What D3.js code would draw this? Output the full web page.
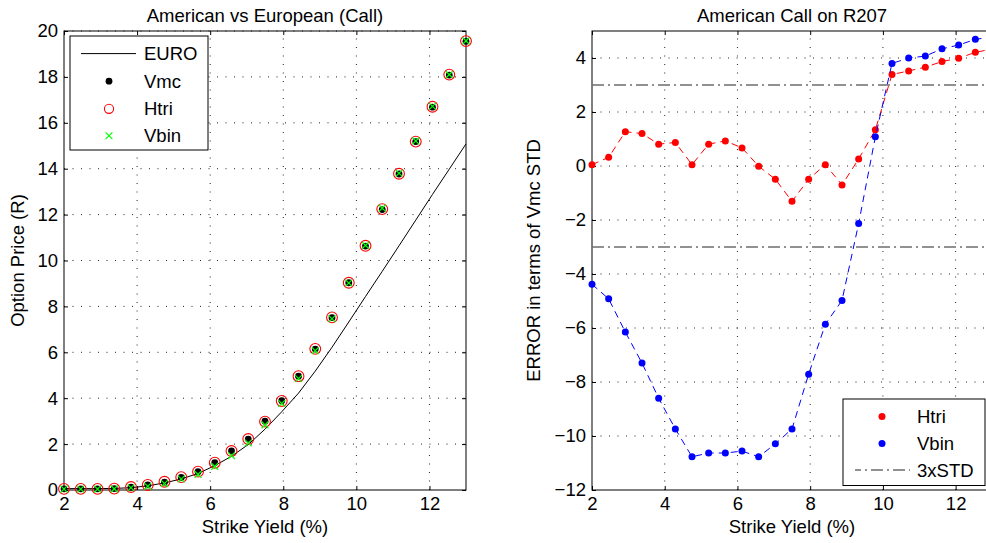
<!DOCTYPE html>
<html>
<head>
<meta charset="utf-8">
<script src="https://cdn.jsdelivr.net/npm/d3@7"></script>
<style>
  html, body { margin: 0; padding: 0; background: #fff; }
  svg { display: block; }
  text { font-family: "Liberation Sans", Arial, Helvetica, sans-serif; fill: #000; }
</style>
</head>
<body>
<svg id="chart" width="986" height="543"></svg>
<script>
// ---------------- DATA ----------------
const strikeYield = [2, 2.458, 2.917, 3.375, 3.833, 4.292, 4.75, 5.208, 5.667, 6.125, 6.583, 7.042, 7.5,
  7.958, 8.417, 8.875, 9.333, 9.792, 10.25, 10.708, 11.167, 11.625, 12.083, 12.542, 13];

// Left panel: option prices (R)
const euro = [0.06, 0.06, 0.06, 0.07, 0.10, 0.18, 0.31, 0.48, 0.72, 1.06, 1.47, 1.98, 2.65,
  3.41, 4.22, 5.18, 6.22, 7.32, 8.43, 9.53, 10.64, 11.76, 12.88, 13.98, 15.08];
const vmc = [0.05, 0.05, 0.05, 0.06, 0.12, 0.22, 0.34, 0.55, 0.80, 1.19, 1.70, 2.22, 3.00,
  3.89, 4.96, 6.14, 7.51, 9.03, 10.63, 12.22, 13.77, 15.18, 16.68, 18.08, 19.55];
const htri = [0.05, 0.05, 0.05, 0.06, 0.13, 0.22, 0.36, 0.56, 0.80, 1.19, 1.70, 2.22, 2.98,
  3.88, 4.96, 6.15, 7.52, 9.03, 10.64, 12.24, 13.78, 15.18, 16.70, 18.10, 19.56];
const vbin = [0.04, 0.04, 0.04, 0.05, 0.10, 0.16, 0.28, 0.48, 0.68, 1.03, 1.50, 2.05, 2.84,
  3.77, 4.86, 6.07, 7.46, 9.02, 10.66, 12.28, 13.80, 15.21, 16.72, 18.10, 19.57];

// Right panel: error in terms of Vmc STD
const htriErr = [0.05, 0.32, 1.27, 1.20, 0.81, 0.87, 0.05, 0.81, 0.93, 0.67, -0.01, -0.49, -1.31,
  -0.49, 0.05, -0.70, 0.26, 1.34, 3.39, 3.52, 3.66, 3.87, 3.99, 4.21, 4.33];
const vbinErr = [-4.38, -4.92, -6.15, -7.30, -8.60, -9.74, -10.77, -10.63, -10.63, -10.56, -10.77, -10.29, -9.74,
  -7.71, -5.86, -4.98, -2.13, 1.08, 3.80, 4.00, 4.07, 4.34, 4.48, 4.69, 4.78];
const stdBand = [3, -3];

// Axis ticks
const xTicks = [2, 4, 6, 8, 10, 12];
const leftYTicks = [0, 2, 4, 6, 8, 10, 12, 14, 16, 18, 20];
const rightYTicks = [-12, -10, -8, -6, -4, -2, 0, 2, 4];

// Text
const leftTitle = "American vs European (Call)";
const rightTitle = "American Call on R207";
const xLabel = "Strike Yield (%)";
const leftYLabel = "Option Price (R)";
const rightYLabel = "ERROR in terms of Vmc STD";
const leftLegend = ["EURO", "Vmc", "Htri", "Vbin"];
const rightLegend = ["Htri", "Vbin", "3xSTD"];

// ---------------- DRAWING ----------------
const svg = d3.select("#chart");
svg.append("rect").attr("width", 986).attr("height", 543).attr("fill", "#fff");
const FS = 18.5;

function panel(cfg) {
  const x = d3.scaleLinear().domain(cfg.xDomain).range([cfg.x0, cfg.x1]);
  const y = d3.scaleLinear().domain(cfg.yDomain).range([cfg.y1, cfg.y0]);
  const g = svg.append("g");

  // grid
  const grid = g.append("g").attr("stroke", "#222").attr("stroke-width", 1)
    .attr("stroke-dasharray", "1,7.5");
  cfg.xTicks.forEach(t => {
    if (t === cfg.xDomain[0]) return;
    grid.append("line").attr("x1", x(t)).attr("x2", x(t)).attr("y1", cfg.y1).attr("y2", cfg.y0);
  });
  cfg.yTicks.forEach(t => {
    if (t === cfg.yDomain[0]) return;
    grid.append("line").attr("x1", cfg.x0).attr("x2", cfg.x1).attr("y1", y(t)).attr("y2", y(t));
  });

  // axes (inward ticks, all four sides)
  const styleAxis = sel => {
    sel.select(".domain").remove();
    sel.selectAll("text").attr("font-size", FS).attr("font-family", null).attr("fill", "#000");
    sel.selectAll("line").attr("stroke", "#000");
  };
  g.append("g").attr("transform", `translate(0,${cfg.y1})`)
    .call(d3.axisBottom(x).tickValues(cfg.xTicks).tickSize(-4).tickPadding(7).tickFormat(d3.format("d")))
    .call(styleAxis).attr("font-family", null);
  g.append("g").attr("transform", `translate(0,${cfg.y0})`)
    .call(d3.axisTop(x).tickValues(cfg.xTicks).tickSize(-4).tickFormat(""))
    .call(styleAxis);
  g.append("g").attr("transform", `translate(${cfg.x0},0)`)
    .call(d3.axisLeft(y).tickValues(cfg.yTicks).tickSize(-4).tickPadding(6).tickFormat(d3.format("d")))
    .call(styleAxis).attr("font-family", null);
  g.append("g").attr("transform", `translate(${cfg.x1},0)`)
    .call(d3.axisRight(y).tickValues(cfg.yTicks).tickSize(-4).tickFormat(""))
    .call(styleAxis);

  // box
  g.append("rect").attr("x", cfg.x0).attr("y", cfg.y0)
    .attr("width", cfg.x1 - cfg.x0).attr("height", cfg.y1 - cfg.y0)
    .attr("fill", "none").attr("stroke", "#000").attr("stroke-width", 1);

  // labels
  const cx = (cfg.x0 + cfg.x1) / 2;
  svg.append("text").attr("x", cx).attr("y", 22).attr("text-anchor", "middle")
    .attr("font-size", FS).text(cfg.title);
  svg.append("text").attr("x", cx).attr("y", 533).attr("text-anchor", "middle")
    .attr("font-size", FS).text(cfg.xLabel);
  svg.append("text").attr("transform", `translate(${cfg.yLabelX},${(cfg.y0 + cfg.y1) / 2}) rotate(-90)`)
    .attr("text-anchor", "middle").attr("font-size", FS).text(cfg.yLabel);

  const clipId = "clip" + Math.round(cfg.x0);
  svg.append("clipPath").attr("id", clipId).append("rect")
    .attr("x", cfg.x0).attr("y", cfg.y0).attr("width", cfg.x1 - cfg.x0).attr("height", cfg.y1 - cfg.y0);
  return { x, y, g, clipId };
}

// ---------- Left panel ----------
const L = panel({
  x0: 64, x1: 466, y0: 31, y1: 490,
  xDomain: [2, 13], yDomain: [0, 20],
  xTicks: xTicks, yTicks: leftYTicks,
  title: leftTitle, xLabel: xLabel, yLabel: leftYLabel, yLabelX: 24
});

const lineL = d3.line().x((d, i) => L.x(strikeYield[i])).y(d => L.y(d));
L.g.append("path").datum(euro).attr("d", lineL)
  .attr("fill", "none").attr("stroke", "#000").attr("stroke-width", 1);

L.g.append("g").selectAll("circle").data(vmc).join("circle")
  .attr("cx", (d, i) => L.x(strikeYield[i])).attr("cy", d => L.y(d))
  .attr("r", 3.4).attr("fill", "#000");
L.g.append("g").selectAll("circle").data(htri).join("circle")
  .attr("cx", (d, i) => L.x(strikeYield[i])).attr("cy", d => L.y(d))
  .attr("r", 5.4).attr("fill", "none").attr("stroke", "#ff0000").attr("stroke-width", 1.1);
const xMark = "M-3.4,-3.4L3.4,3.4M-3.4,3.4L3.4,-3.4";
L.g.append("g").selectAll("path").data(vbin).join("path")
  .attr("transform", (d, i) => `translate(${L.x(strikeYield[i])},${L.y(d)})`)
  .attr("d", xMark).attr("stroke", "#00ff00").attr("stroke-width", 1.2).attr("fill", "none");

// left legend
{
  const lg = svg.append("g");
  lg.append("rect").attr("x", 70).attr("y", 36).attr("width", 138).attr("height", 114)
    .attr("fill", "#fff").attr("stroke", "#000").attr("stroke-width", 1);
  const ys = [53.6, 81.2, 108.8, 135.8];
  lg.append("line").attr("x1", 81).attr("x2", 136).attr("y1", ys[0]).attr("y2", ys[0])
    .attr("stroke", "#000").attr("stroke-width", 1);
  lg.append("circle").attr("cx", 109).attr("cy", ys[1]).attr("r", 3.4).attr("fill", "#000");
  lg.append("circle").attr("cx", 109).attr("cy", ys[2]).attr("r", 4.6).attr("fill", "none")
    .attr("stroke", "#ff0000").attr("stroke-width", 1.1);
  lg.append("path").attr("transform", `translate(109,${ys[3]})`).attr("d", xMark)
    .attr("stroke", "#00ff00").attr("stroke-width", 1.2);
  leftLegend.forEach((t, i) => {
    lg.append("text").attr("x", 144).attr("y", ys[i] + 6.5).attr("font-size", FS).text(t);
  });
}

// ---------- Right panel ----------
const R = panel({
  x0: 592, x1: 992, y0: 31, y1: 490,
  xDomain: [2, 13], yDomain: [-12, 5],
  xTicks: xTicks, yTicks: rightYTicks,
  title: rightTitle, xLabel: xLabel, yLabel: rightYLabel, yLabelX: 540
});

const lineR = d3.line().x((d, i) => R.x(strikeYield[i])).y(d => R.y(d));
const series = [
  { vals: htriErr, color: "#ff0000" },
  { vals: vbinErr, color: "#0000ff" }
];
series.forEach(s => {
  const sg = R.g.append("g");
  sg.append("path").datum(s.vals).attr("d", lineR).attr("clip-path", `url(#${R.clipId})`)
    .attr("fill", "none").attr("stroke", s.color).attr("stroke-width", 1)
    .attr("stroke-dasharray", "7,5");
  sg.selectAll("circle").data(s.vals).join("circle")
    .attr("cx", (d, i) => R.x(strikeYield[i])).attr("cy", d => R.y(d))
    .attr("r", 3.5).attr("fill", s.color);
});
stdBand.forEach(v => {
  R.g.append("line").attr("x1", R.x(2)).attr("x2", R.x(13)).attr("y1", R.y(v)).attr("y2", R.y(v))
    .attr("stroke", "#6e6e6e").attr("stroke-width", 1.6).attr("stroke-dasharray", "12,4,2,4");
});

// right legend
{
  const lg = svg.append("g");
  lg.append("rect").attr("x", 843).attr("y", 399).attr("width", 142).attr("height", 86.5)
    .attr("fill", "#fff").attr("stroke", "#000").attr("stroke-width", 1);
  const ys = [416.5, 443.5, 470];
  lg.append("circle").attr("cx", 882).attr("cy", ys[0]).attr("r", 3.5).attr("fill", "#ff0000");
  lg.append("circle").attr("cx", 882).attr("cy", ys[1]).attr("r", 3.5).attr("fill", "#0000ff");
  lg.append("line").attr("x1", 855).attr("x2", 910).attr("y1", ys[2]).attr("y2", ys[2])
    .attr("stroke", "#6e6e6e").attr("stroke-width", 1.6).attr("stroke-dasharray", "12,4,2,4")
    .attr("stroke-dashoffset", 6);
  rightLegend.forEach((t, i) => {
    lg.append("text").attr("x", 917).attr("y", ys[i] + 6.5).attr("font-size", FS).text(t);
  });
}
</script>
</body>
</html>
